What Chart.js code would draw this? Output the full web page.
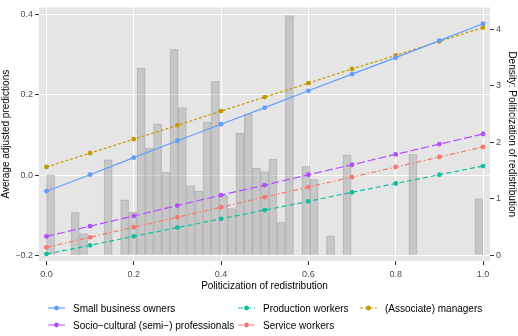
<!DOCTYPE html>
<html><head><meta charset="utf-8">
<script src="https://cdn.jsdelivr.net/npm/chart.js@4"></script>
<style>
html,body{margin:0;padding:0;background:#fff;}
#wrap{position:relative;width:518px;height:336px;font-family:"Liberation Sans",Arial,sans-serif;}
#c{position:absolute;left:0;top:0;}
.leg{position:absolute;font-size:10px;color:#000;display:flex;align-items:center;white-space:nowrap;height:14px;}
.leg svg{margin-right:8px;flex:none}
</style></head><body>
<div id="wrap"><canvas id="c" width="518" height="336"></canvas><div id="legend"></div></div>
<script>
// ---- data ----
const xPoints = [0.0, 0.1, 0.2, 0.3, 0.4, 0.5, 0.6, 0.7, 0.8, 0.9, 1.0];
const smallBusinessOwners = [-0.040, 0.001, 0.0435, 0.0856, 0.1267, 0.168, 0.210, 0.2515, 0.2926, 0.335, 0.377];
const socioCultural = [-0.1523, -0.127, -0.1016, -0.0757, -0.0498, -0.0249, 0.001, 0.0259, 0.0517, 0.0774, 0.1025];
const productionWorkers = [-0.1966, -0.1748, -0.1523, -0.1306, -0.1088, -0.087, -0.0653, -0.0426, -0.0208, 0.001, 0.0227];
const serviceWorkers = [-0.1797, -0.1548, -0.1296, -0.1047, -0.0798, -0.0547, -0.0297, -0.0048, 0.0203, 0.0452, 0.0701];
const associateManagers = [0.0203, 0.0549, 0.0895, 0.124, 0.1596, 0.1944, 0.229, 0.2645, 0.298, 0.333, 0.3675];

// histogram of politicization of redistribution (bin midpoints, density)
const histBinMid = [0.0094, 0.0660, 0.0849, 0.1415, 0.1792, 0.1981, 0.2170, 0.2358, 0.2547, 0.2736, 0.2925, 0.3113, 0.3302, 0.3491, 0.3679, 0.3868, 0.4057, 0.4245, 0.4434, 0.4623, 0.4811, 0.5000, 0.5189, 0.5377, 0.5566, 0.5943, 0.6132, 0.6509, 0.6887, 0.8396, 0.9906];
const histDensity = [1.42, 0.756, 0.383, 1.69, 0.979, 0.768, 3.31, 1.90, 2.32, 1.47, 3.64, 2.61, 1.23, 1.134, 2.354, 3.076, 1.06, 0.825, 2.165, 2.50, 1.546, 1.478, 1.70, 0.584, 4.24, 1.57, 1.34, 0.344, 1.775, 1.787, 1.00];

const xTickValues = [0, 0.2, 0.4, 0.6, 0.8, 1.0];
const xTickLabels = ["0.0", "0.2", "0.4", "0.6", "0.8", "1.0"];
const yTickValues = [-0.2, 0.0, 0.2, 0.4];
const yTickLabels = ["\u22120.2", "0.0", "0.2", "0.4"];
const y2TickValues = [0, 1, 2, 3, 4];
const y2TickLabels = ["0", "1", "2", "3", "4"];

const seriesNames = ["Small business owners", "Socio\u2212cultural (semi\u2212) professionals", "Production workers", "Service workers", "(Associate) managers"];
// ---- styles ----
const seriesColors = ["#619CFF", "#B34BFF", "#12BE9E", "#F8766D", "#C49A00"];
const seriesDash = [[], [8, 3], [5, 3], [5, 2.5, 1.5, 2.5], [3, 2]];
const seriesValues = [smallBusinessOwners, socioCultural, productionWorkers, serviceWorkers, associateManagers];

Chart.defaults.font.family = '"Liberation Sans", Arial, sans-serif';

const lineSets = seriesNames.map((n, i) => ({
  type: 'line', label: n, yAxisID: 'y', order: 1,
  data: xPoints.map((x, j) => ({x: x, y: seriesValues[i][j]})),
  borderColor: seriesColors[i], backgroundColor: seriesColors[i],
  borderWidth: 1.2, borderDash: seriesDash[i],
  pointRadius: 2.4, pointBorderWidth: 0, pointBackgroundColor: seriesColors[i],
  tension: 0, fill: false
}));
const barSet = {
  type: 'bar', label: 'density', yAxisID: 'y2', order: 10,
  data: histBinMid.map((x, j) => ({x: x, y: histDensity[j]})),
  backgroundColor: 'rgba(150,150,150,0.38)', borderColor: 'rgba(140,140,140,0.35)', borderWidth: 0.6,
  barPercentage: 1.0, categoryPercentage: 1.0
};

const panelBg = {
  id: 'panelBg',
  beforeDraw(chart) {
    const {ctx, chartArea: a} = chart;
    ctx.save(); ctx.fillStyle = '#E5E5E5';
    ctx.fillRect(a.left, a.top, a.right - a.left, a.bottom - a.top);
    ctx.restore();
  }
};

const tickFont = {size: 9};
const titleFont = {size: 10};
new Chart(document.getElementById('c'), {
  data: {datasets: [...lineSets, barSet]},
  options: {
    responsive: false, animation: false, devicePixelRatio: 1,
    layout: {padding: {left: 0, right: 0, top: 0, bottom: 44}},
    plugins: {legend: {display: false}, tooltip: {enabled: false}},
    scales: {
      x: {
        type: 'linear', position: 'bottom', min: -0.017, max: 1.016, offset: false,
        afterBuildTicks: s => { s.ticks = xTickValues.map(v => ({value: v})); },
        afterFit: s => { s.height = 31; },
        ticks: {callback: (v, i) => xTickLabels[i], font: tickFont, color: '#4D4D4D', padding: 4, maxRotation: 0, autoSkip: false},
        grid: {offset: false, color: '#FFFFFF', lineWidth: 1, tickColor: '#333333', tickLength: 4, drawTicks: true},
        border: {display: false},
        title: {display: true, text: 'Politicization of redistribution', font: titleFont, color: '#000', padding: 0}
      },
      y: {
        type: 'linear', position: 'left', min: -0.2138, max: 0.4177,
        afterBuildTicks: s => { s.ticks = yTickValues.map(v => ({value: v})); },
        afterFit: s => { s.width = 39; },
        ticks: {callback: (v, i) => yTickLabels[i], font: tickFont, color: '#4D4D4D', padding: 2, autoSkip: false},
        grid: {color: '#FFFFFF', lineWidth: 1, tickColor: '#333333', tickLength: 4, drawTicks: true},
        border: {display: false},
        title: {display: true, text: 'Average adjusted predictions', font: titleFont, color: '#000', padding: 0}
      },
      y2: {
        type: 'linear', position: 'right', min: -0.1031, max: 4.383,
        afterBuildTicks: s => { s.ticks = y2TickValues.map(v => ({value: v})); },
        afterFit: s => { s.width = 28; },
        ticks: {callback: (v, i) => y2TickLabels[i], font: tickFont, color: '#4D4D4D', padding: 2, autoSkip: false},
        grid: {drawOnChartArea: false, tickColor: '#333333', tickLength: 4, drawTicks: true},
        border: {display: false},
        title: {display: true, text: 'Density: Politicization of redistribution', font: titleFont, color: '#000', padding: 0}
      }
    }
  },
  plugins: [panelBg]
});

// ---- legend (HTML) ----
const legendPos = [[48, 301], [48, 318], [238, 301], [238, 318], [360, 301]];
const legendOrder = [0, 1, 2, 3, 4];
const legDiv = document.getElementById('legend');
legendOrder.forEach((si, k) => {
  const d = document.createElement('div');
  d.className = 'leg';
  d.style.left = legendPos[k][0] + 'px';
  d.style.top = legendPos[k][1] + 'px';
  const dash = seriesDash[si].length ? seriesDash[si].join(',') : 'none';
  d.innerHTML = '<svg width="17" height="10"><line x1="0" y1="5" x2="17" y2="5" stroke="' + seriesColors[si] +
    '" stroke-width="1.2" stroke-dasharray="' + dash + '"/><circle cx="8.5" cy="5" r="2.4" fill="' + seriesColors[si] +
    '"/></svg><span>' + seriesNames[si] + '</span>';
  legDiv.appendChild(d);
});
</script>
</body></html>
